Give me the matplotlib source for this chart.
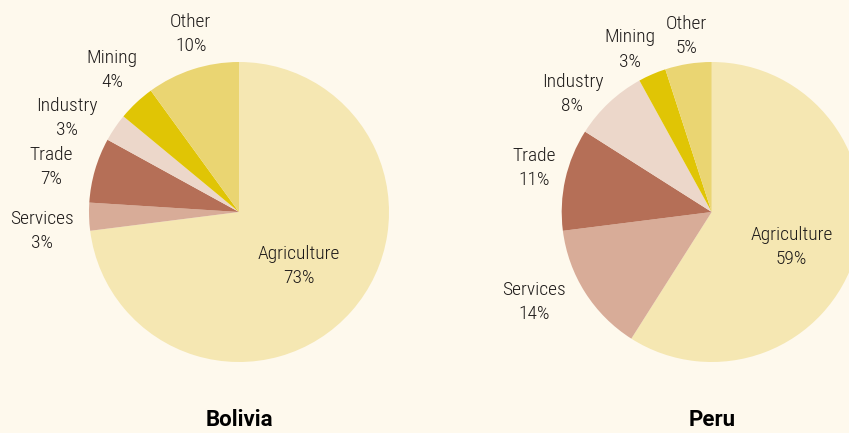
import numpy as np
import matplotlib.pyplot as plt

plt.rcParams['font.family'] = ['Roboto Condensed', 'DejaVu Sans']

sectors = ['Agriculture', 'Services', 'Trade', 'Industry', 'Mining', 'Other']
bolivia = [73, 3, 7, 3, 4, 10]
peru = [59, 14, 11, 8, 3, 5]

colors = ['#f5e7b2', '#d8ac98', '#b56f57', '#ecd7ca', '#e0c505', '#ead572']
bg = '#fef9ed'

W, H, R = 849, 433, 150.0

fig = plt.figure(figsize=(W / 100, H / 100), dpi=100, facecolor=bg)


def pie_axes(x0, x1, cx, cy):
    # axes spanning [x0, x1] px horizontally with 1 data unit = R px
    ax = fig.add_axes([x0 / W, 0, (x1 - x0) / W, 1])
    ax.set_facecolor(bg)
    return ax, ((x0 - cx) / R, (x1 - cx) / R), (-(H - cy) / R, cy / R)


def draw(ax, xlim, ylim, values, title, dists, nudges, title_y):
    wedges, _ = ax.pie(values, colors=colors, startangle=90, counterclock=False,
                       wedgeprops=dict(linewidth=0))
    for w, name, v, d, a in zip(wedges, sectors, values, dists, nudges):
        mid = np.radians((w.theta1 + w.theta2) / 2 + a)
        # va='center' counts the descenders, so drop the block a touch
        ax.text(d * np.cos(mid), d * np.sin(mid) - 2.5 / R, f'{name}\n{v}%',
                ha='center', va='center', fontsize=14, fontweight='light',
                color='#1e1b1a', linespacing=1.43)
    ax.text(0, title_y, title, ha='center', va='center', fontsize=16,
            fontweight='bold', family='Roboto', color='#000000')
    ax.set_xlim(*xlim)
    ax.set_ylim(*ylim)
    ax.set_aspect('auto')


lax, lx, ly = pie_axes(0, 478, 239, 212)
draw(lax, lx, ly, bolivia, 'Bolivia',
     [0.525, 1.318, 1.29, 1.317, 1.284, 1.245],
     [1, 3, 2, 5, -2, -3], -207.5 / R)

rax, rx, ry = pie_axes(478, 849, 711.7, 212)
draw(rax, rx, ry, peru, 'Peru',
     [0.573, 1.319, 1.225, 1.226, 1.228, 1.2],
     [-6, -6, -2, 6, 3, -1], -207.5 / R)

fig.savefig('out.png', dpi=100, facecolor=bg)
